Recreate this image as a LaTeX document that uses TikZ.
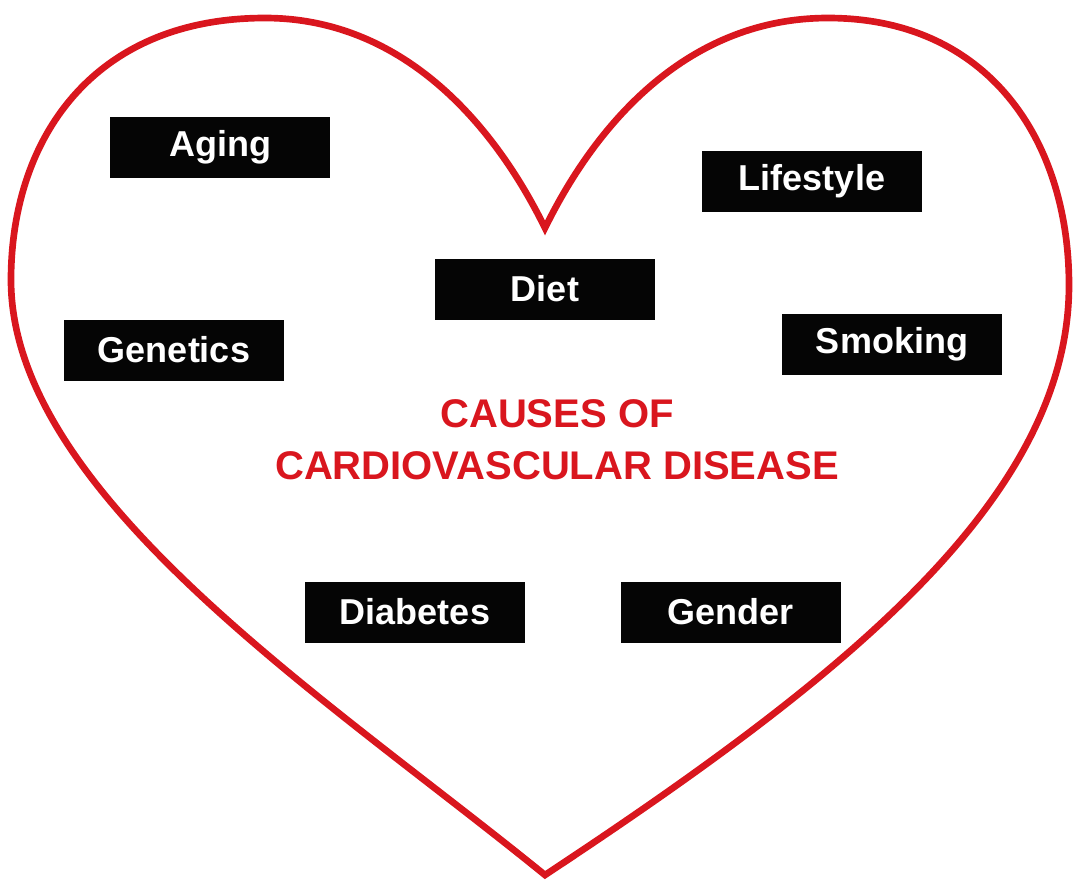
\documentclass[tikz,border=0pt]{standalone}
\usepackage{fontspec}
\setmainfont{Liberation Sans}
\usepackage{tikz}
\usetikzlibrary{positioning}
\usepackage{xcolor}
\definecolor{heartred}{HTML}{D9161E}
\definecolor{boxblack}{HTML}{050505}

\begin{document}
\begin{tikzpicture}[x=0.75pt, y=-0.75pt,
  causebox/.style={fill=boxblack, text=white, inner sep=0pt,
    minimum width=165pt, minimum height=45.75pt,
    font=\fontsize{27}{30}\selectfont\bfseries},
  heartline/.style={draw=heartred, line width=5pt, line join=miter},
  titletext/.style={text=heartred, align=center,
    font=\fontsize{30}{39}\selectfont\bfseries}
]
\useasboundingbox (0,0) rectangle (1076,883);
% heart outline
\draw[heartline] (545,228) .. controls (492,120) and (400,18) .. (265,18)
  .. controls (92,18) and (11,140) .. (11,280)
  .. controls (11,495) and (330,700) .. (545,875)
  .. controls (840,680) and (1069,500) .. (1069,285)
  .. controls (1069,140) and (988,18) .. (828,18)
  .. controls (690,18) and (598,120) .. cycle;
% causes
\node[causebox] (aging) at (220,147) {Aging};
\node[causebox] (lifestyle) at (812,181) {Lifestyle};
\node[causebox] (diet) at (545,289) {Diet};
\node[causebox] (genetics) at (174,350) {Genetics};
\node[causebox] (smoking) at (892,344) {Smoking};
\node[causebox] (diabetes) at (415,612) {Diabetes};
\node[causebox, right=71.25pt of diabetes] (gender) {Gender};
\node[titletext] (title) at (557,440) {CAUSES OF\\CARDIOVASCULAR DISEASE};
\end{tikzpicture}
\end{document}
